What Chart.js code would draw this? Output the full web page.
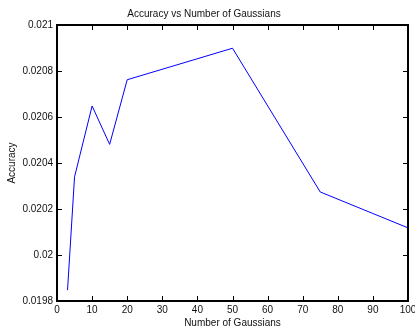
<!DOCTYPE html>
<html>
<head>
<meta charset="utf-8">
<script src="https://cdn.jsdelivr.net/npm/chart.js@4.4.0/dist/chart.umd.min.js"></script>
<style>
  html, body { margin: 0; padding: 0; background: white; }
  #wrap { width: 415px; height: 327px; }
</style>
</head>
<body>
<div id="wrap"><canvas id="myChart" width="415" height="327"></canvas></div>
<script>
// number of gaussians vs accuracy
const gaussians = [3, 5, 10, 15, 20, 50, 75, 100];
const accuracy = [0.019847, 0.020340, 0.020648, 0.020481, 0.020762, 0.020899, 0.020274, 0.020118];
const xTicks = [0, 10, 20, 30, 40, 50, 60, 70, 80, 90, 100];
const yTicks = [0.0198, 0.02, 0.0202, 0.0204, 0.0206, 0.0208, 0.021];

const font = { family: "'Liberation Sans', Arial, Helvetica, sans-serif", size: 10 };

// matlab style box with inward ticks on every side
const boxTicks = {
    id: 'boxTicks',
    afterDraw: (chart) => {
        const ctx = chart.ctx;
        const a = chart.chartArea;
        const xs = chart.scales.x, ys = chart.scales.y;
        const len = 5;
        ctx.save();
        ctx.strokeStyle = '#000';
        ctx.lineWidth = 1;
        ctx.beginPath();
        xTicks.forEach(v => {
            const px = Math.round(xs.getPixelForValue(v)) + 0.5;
            ctx.moveTo(px, a.bottom); ctx.lineTo(px, a.bottom - len);
            ctx.moveTo(px, a.top); ctx.lineTo(px, a.top + len);
        });
        yTicks.forEach(v => {
            const py = Math.round(ys.getPixelForValue(v)) + 0.5;
            ctx.moveTo(a.left, py); ctx.lineTo(a.left + len, py);
            ctx.moveTo(a.right, py); ctx.lineTo(a.right - len, py);
        });
        ctx.stroke();
        ctx.lineWidth = 2;
        ctx.strokeRect(a.left, a.top, a.right - a.left, a.bottom - a.top);
        ctx.restore();
    }
};

const ctx = document.getElementById('myChart').getContext('2d');
const myChart = new Chart(ctx, {
    type: 'line',
    data: {
        labels: gaussians,
        datasets: [{
            label: 'Accuracy',
            data: gaussians.map((g, i) => ({ x: g, y: accuracy[i] })),
            borderColor: '#0000ff',
            borderWidth: 1,
            pointRadius: 0,
            tension: 0,
            fill: false
        }]
    },
    options: {
        responsive: false,
        animation: false,
        layout: { padding: { left: 0, right: 7, top: 0, bottom: 0 } },
        scales: {
            x: {
                type: 'linear',
                min: 0,
                max: 100,
                afterBuildTicks: (s) => { s.ticks = xTicks.map(v => ({ value: v })); },
                afterFit: (s) => { s.height = 26; s.paddingRight = 0; s.paddingLeft = 0; },
                ticks: { color: '#111', font: font, padding: 3, maxRotation: 0, autoSkip: false },
                grid: { drawOnChartArea: false, drawTicks: false },
                border: { display: false },
                title: { display: true, text: 'Number of Gaussians', color: '#111', font: font, padding: { top: 0, bottom: -2 } }
            },
            y: {
                min: 0.0198,
                max: 0.021,
                afterBuildTicks: (s) => { s.ticks = yTicks.map(v => ({ value: v })); },
                afterFit: (s) => { s.width = 57; },
                ticks: {
                    color: '#111', font: font, padding: 4, autoSkip: false,
                    callback: (v) => parseFloat(Number(v).toFixed(4)).toString()
                },
                grid: { drawOnChartArea: false, drawTicks: false },
                border: { display: false },
                title: { display: true, text: 'Accuracy', color: '#111', font: font, padding: { top: 6, bottom: 0 } }
            }
        },
        plugins: {
            legend: { display: false },
            tooltip: { enabled: false },
            title: {
                display: true,
                text: 'Accuracy vs Number of Gaussians',
                color: '#111',
                font: { family: font.family, size: 10, weight: 'normal' },
                padding: { top: 8, bottom: 5 }
            }
        }
    },
    plugins: [boxTicks, {
        id: 'background-colour',
        beforeDraw: (chart) => {
            const c = chart.canvas.getContext('2d');
            c.save();
            c.fillStyle = 'white';
            c.fillRect(0, 0, chart.width, chart.height);
            c.restore();
        }
    }]
});
</script>
</body>
</html>
